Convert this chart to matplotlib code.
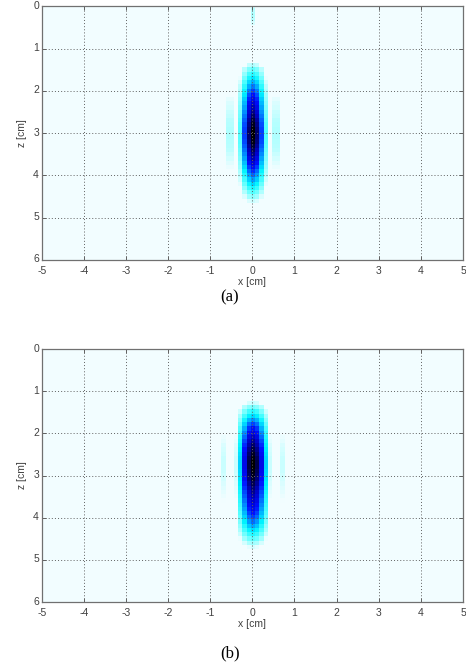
import numpy as np
import matplotlib
matplotlib.use("Agg")
import matplotlib.pyplot as plt
import matplotlib.transforms as mtransforms
from matplotlib.colors import LinearSegmentedColormap

# Reconstruction grid (cm), 0.1 cm pixels
x_cells = np.round(np.arange(-5.0, 5.0001, 0.1), 2)
z_cells = np.round(np.arange(0.0, 6.0001, 0.1), 2)

# ---- (a) lateral and depth profiles of the reconstructed target ----
xa_pos = [-0.8, -0.7, -0.6, -0.5, -0.4, -0.3, -0.2, -0.1, 0.0, 0.1, 0.2, 0.3, 0.4, 0.5, 0.6, 0.7, 0.8]
xa_val = [0.00, 0.03, 0.12, 0.12, 0.03, 0.22, 0.55, 0.86, 1.00, 0.86, 0.55, 0.22, 0.03, 0.12, 0.12, 0.03, 0.00]
za_pos = [1.4, 1.5, 1.6, 1.7, 1.8, 1.9, 2.0, 2.1, 2.2, 2.3, 2.4, 2.5, 2.6, 2.7, 2.8, 2.9, 3.0,
          3.1, 3.2, 3.3, 3.4, 3.5, 3.6, 3.7, 3.8, 3.9, 4.0, 4.1, 4.2, 4.3, 4.4, 4.5, 4.6]
za_val = [0.12, 0.20, 0.27, 0.34, 0.41, 0.48, 0.55, 0.61, 0.67, 0.72, 0.77, 0.82, 0.87, 0.92, 0.96, 0.99, 1.00,
          0.99, 0.97, 0.93, 0.88, 0.83, 0.77, 0.71, 0.64, 0.57, 0.50, 0.43, 0.36, 0.29, 0.22, 0.16, 0.10]
# faint streak near the surface on the axis
streak_z = [0.0, 0.1, 0.2, 0.3, 0.4]
streak_v = [0.09, 0.11, 0.12, 0.11, 0.09]

# ---- (b) lateral and depth profiles ----
xb_pos = [-0.8, -0.7, -0.6, -0.5, -0.4, -0.3, -0.2, -0.1, 0.0, 0.1, 0.2, 0.3, 0.4, 0.5, 0.6, 0.7, 0.8]
xb_val = [0.04, 0.10, 0.03, 0.00, 0.10, 0.36, 0.66, 0.90, 1.00, 0.90, 0.66, 0.36, 0.10, 0.00, 0.03, 0.10, 0.04]
zb_pos = [1.3, 1.4, 1.5, 1.6, 1.7, 1.8, 1.9, 2.0, 2.1, 2.2, 2.3, 2.4, 2.5, 2.6, 2.7, 2.8, 2.9, 3.0,
          3.1, 3.2, 3.3, 3.4, 3.5, 3.6, 3.7, 3.8, 3.9, 4.0, 4.1, 4.2, 4.3, 4.4, 4.5, 4.6, 4.7]
zb_val = [0.10, 0.18, 0.27, 0.36, 0.45, 0.54, 0.62, 0.69, 0.75, 0.81, 0.86, 0.91, 0.95, 0.98, 1.00, 1.00, 0.98, 0.96,
          0.93, 0.89, 0.85, 0.81, 0.77, 0.73, 0.69, 0.65, 0.60, 0.55, 0.49, 0.42, 0.35, 0.28, 0.21, 0.14, 0.09]

x_ticks = [-5, -4, -3, -2, -1, 0, 1, 2, 3, 4, 5]
z_ticks = [0, 1, 2, 3, 4, 5, 6]
panel_labels = ["(a)", "(b)"]


def profile_on_grid(cells, pos, val):
    out = np.zeros(len(cells))
    for p, v in zip(pos, val):
        out[np.argmin(np.abs(cells - p))] = v
    return out


def build_image(xpos, xval, zpos, zval):
    px = profile_on_grid(x_cells, xpos, xval)
    pz = profile_on_grid(z_cells, zpos, zval)
    return np.outer(pz, px)


img_a = build_image(xa_pos, xa_val, za_pos, za_val)
img_a[:, np.argmin(np.abs(x_cells))] += profile_on_grid(z_cells, streak_z, streak_v)
img_b = build_image(xb_pos, xb_val, zb_pos, zb_val)

cmap = LinearSegmentedColormap.from_list(
    "ice_dark",
    [(0.00, "#f2fdff"), (0.07, "#f2fdff"), (0.11, "#b8ffff"), (0.22, "#50ffff"),
     (0.32, "#00f4ff"), (0.45, "#0090ff"), (0.60, "#0010ff"), (0.75, "#0000c0"),
     (0.90, "#00004a"), (1.00, "#000000")])

fig = plt.figure(figsize=(4.66, 6.69), dpi=100)
plt.rcParams['font.family'] = ['Liberation Sans', 'DejaVu Sans']

boxes = [[0.0895, 0.6114, 0.9041, 0.3792], [0.0895, 0.1001, 0.9041, 0.3782]]
label_y = [0.556, 0.023]

for img, box, lab, ly in zip([img_a, img_b], boxes, panel_labels, label_y):
    ax = fig.add_axes(box)
    ax.imshow(img, cmap=cmap, vmin=0, vmax=1, interpolation="nearest", aspect="auto",
              extent=[x_cells[0] - 0.05, x_cells[-1] + 0.05, z_cells[-1] + 0.05, z_cells[0] - 0.05])
    ax.set_xlim(-5, 5)
    ax.set_ylim(6, 0)
    ax.set_xticks(x_ticks)
    ax.set_yticks(z_ticks)
    ax.set_xticklabels([str(t) for t in x_ticks])
    ax.set_yticklabels([str(t) for t in z_ticks])
    ax.grid(True, color="#606060", linestyle=(0, (1, 2.2)), linewidth=0.7)
    ax.tick_params(direction="in", length=3, width=0.7, colors="#606060", labelcolor="#404040",
                   labelsize=7.5, top=True, right=True)
    ax.tick_params(axis="x", pad=4)
    ax.tick_params(axis="y", pad=2)
    # z tick labels sit slightly above their ticks
    shift = mtransforms.ScaledTranslation(0, 1.5 / 100, fig.dpi_scale_trans)
    for t in ax.get_yticklabels():
        t.set_transform(t.get_transform() + shift)
    for s in ax.spines.values():
        s.set_color("#707070")
        s.set_linewidth(0.9)
    ax.set_xlabel("x [cm]", fontsize=7.5, color="#404040", labelpad=1)
    ax.set_ylabel("z [cm]", fontsize=7.5, color="#404040", labelpad=4)
    fig.text(0.493, ly, lab, ha="center", va="center",
             fontsize=12, family=["Liberation Serif", "DejaVu Serif"])

fig.savefig("out.png", dpi=100)
